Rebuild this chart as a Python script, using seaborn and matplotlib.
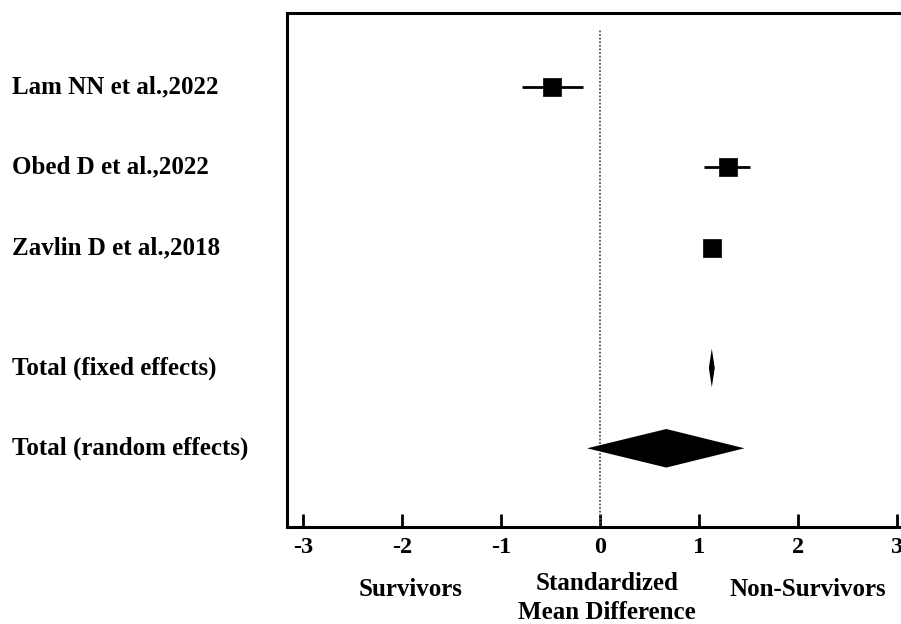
import numpy as np
import pandas as pd
import matplotlib
matplotlib.use("Agg")
import matplotlib.pyplot as plt
import matplotlib.transforms as mtransforms
import seaborn as sns

# ---- data ----
studies = ["Lam NN et al.,2022", "Obed D et al.,2022", "Zavlin D et al.,2018"]
smd = [-0.48, 1.29, 1.13]
ci_low = [-0.79, 1.05, 1.10]
ci_high = [-0.17, 1.52, 1.16]

pooled_labels = ["Total (fixed effects)", "Total (random effects)"]
pooled_smd = [1.13, 0.67]
pooled_low = [1.10, -0.13]
pooled_high = [1.16, 1.46]

xticks = [-3, -2, -1, 0, 1, 2, 3]
study_rows = [0, 1, 2]
pooled_rows = [3.5, 4.5]

sns.set_theme(style="white")
plt.rcParams["font.family"] = ["Liberation Serif", "DejaVu Serif"]
plt.rcParams["font.weight"] = "bold"
plt.rcParams["text.color"] = "black"
plt.rcParams["xtick.labelcolor"] = "black"

fig = plt.figure(figsize=(9.01, 6.24), dpi=100)
ax = fig.add_axes([287 / 901, 97 / 624, (901 - 287) / 901, 514 / 624])

df = pd.DataFrame({"study": studies, "smd": smd, "lo": ci_low, "hi": ci_high, "row": study_rows})

# CI lines
ax.hlines(df["row"], df["lo"], df["hi"], color="black", lw=2.0, zorder=2)
# squares
sns.scatterplot(data=df, x="smd", y="row", marker="s", s=150, color="black",
                edgecolor="black", linewidth=0.5, ax=ax, zorder=3, legend=False)

# pooled diamonds
half_h = 0.24
for c, lo, hi, r in zip(pooled_smd, pooled_low, pooled_high, pooled_rows):
    ax.fill([lo, c, hi, c], [r, r - half_h, r, r + half_h], color="black", lw=0, zorder=3)

# zero line
ax.axvline(0, ymin=0, ymax=0.967, color="#555555", ls=(0, (1, 1)), lw=1.3, zorder=1)

ax.set_xlim(-3.163, 3.042)
ax.set_ylim(5.48, -0.92)
ax.set_xticks(xticks)
ax.set_xticklabels([str(t) for t in xticks], fontsize=17.5, fontweight="bold", color="black")
ax.set_yticks([])
ax.set_xlabel("")
ax.set_ylabel("")

for side in ["left", "top", "bottom"]:
    ax.spines[side].set_visible(True)
    ax.spines[side].set_color("black")
    ax.spines[side].set_linewidth(2.2)
ax.spines["right"].set_visible(False)
ax.tick_params(axis="x", direction="in", length=9.5, width=2.0, color="black", pad=7,
               bottom=True)

# row labels
trans = mtransforms.blended_transform_factory(fig.transFigure, ax.transData)
for lab, r in zip(studies + pooled_labels, study_rows + pooled_rows):
    ax.text(12 / 901, r, lab, transform=trans, ha="left", va="center",
            fontsize=18, fontweight="bold", color="black")

# bottom annotations
fig.text(411 / 901, 1 - 589 / 624, "Survivors", ha="center", va="center",
         fontsize=18, fontweight="bold", color="black")
fig.text(607 / 901, 1 - 598 / 624, "Standardized\nMean Difference", ha="center",
         va="center", fontsize=18, fontweight="bold", linespacing=1.35, color="black")
fig.text(808 / 901, 1 - 589 / 624, "Non-Survivors", ha="center", va="center",
         fontsize=18, fontweight="bold", color="black")

fig.savefig("out.png", dpi=100)
